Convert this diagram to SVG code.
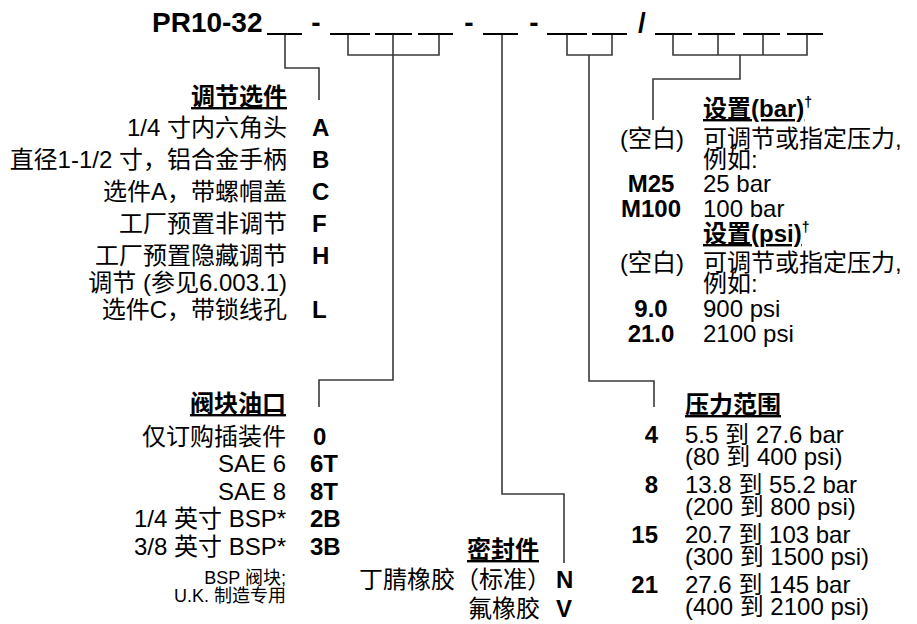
<svg xmlns="http://www.w3.org/2000/svg" width="917" height="624" viewBox="0 0 917 624">
<style>
text{font-family:"Liberation Sans","Noto Sans CJK SC",sans-serif;font-size:24px;fill:#000}
.b{font-weight:bold}
.e{text-anchor:end}
.m{text-anchor:middle}
.u{text-decoration:underline}
.s{font-size:18px}
.sup{font-size:14px}
.big{font-size:28px}
.blank{stroke:#000;stroke-width:2}
.c{fill:none;stroke:#3a3a3a;stroke-width:1.6}
</style>
<rect width="917" height="624" fill="#fff"/>
<g id="code">
<text x="152" y="32" class="b big">PR10-32</text>
<text x="316" y="32" class="b m big">-</text>
<text x="469" y="32" class="b m big">-</text>
<text x="534" y="32" class="b m big">-</text>
<text x="642" y="32" class="b m big">/</text>
<g class="blank">
<line x1="267" y1="34" x2="302" y2="34"/>
<line x1="330" y1="34" x2="370" y2="34"/>
<line x1="375" y1="34" x2="412" y2="34"/>
<line x1="418" y1="34" x2="453" y2="34"/>
<line x1="483" y1="34" x2="518" y2="34"/>
<line x1="547" y1="34" x2="587" y2="34"/>
<line x1="592" y1="34" x2="627" y2="34"/>
<line x1="655" y1="34" x2="692" y2="34"/>
<line x1="698" y1="34" x2="735" y2="34"/>
<line x1="743" y1="34" x2="780" y2="34"/>
<line x1="787" y1="34" x2="823" y2="34"/>
</g>
</g>
<g id="connectors" class="c">
<path d="M285,35V68H319V100"/>
<path d="M348,35V55H439V35M393,35V380H319V407"/>
<path d="M502,35V494H564V563"/>
<path d="M567,35V55H612V35M589,55V381H654V407"/>
<path d="M673,35V55H807V35M718,35V55M763,35V55M740,55V79H653V120"/>
</g>
<g id="adjustment">
<text x="287" y="105" class="b e"><tspan class="u">调节选件</tspan></text>
<text x="287" y="136" class="e">1/4 寸内六角头</text><text x="312" y="136" class="b">A</text>
<text x="287" y="168" class="e">直径1-1/2 寸，铝合金手柄</text><text x="312" y="168" class="b">B</text>
<text x="287" y="200" class="e">选件A，带螺帽盖</text><text x="312" y="200" class="b">C</text>
<text x="287" y="232" class="e">工厂预置非调节</text><text x="312" y="232" class="b">F</text>
<text x="287" y="264" class="e"><tspan x="287">工厂预置隐藏调节</tspan><tspan x="287" dy="27">调节 (参见6.003.1)</tspan></text><text x="312" y="264" class="b">H</text>
<text x="287" y="318" class="e">选件C，带锁线孔</text><text x="312" y="318" class="b">L</text>
</g>
<g id="ports">
<text x="286" y="412" class="b e"><tspan class="u">阀块油口</tspan></text>
<text x="286" y="445" class="e">仅订购插装件</text><text x="313" y="445" class="b">0</text>
<text x="286" y="472" class="e">SAE 6</text><text x="310" y="472" class="b">6T</text>
<text x="286" y="500" class="e">SAE 8</text><text x="310" y="500" class="b">8T</text>
<text x="286" y="527" class="e">1/4 英寸 BSP*</text><text x="310" y="527" class="b">2B</text>
<text x="286" y="555" class="e">3/8 英寸 BSP*</text><text x="310" y="555" class="b">3B</text>
<text x="286" y="584" class="e s"><tspan x="286">BSP 阀块;</tspan><tspan x="286" dy="18">U.K. 制造专用</tspan></text>
</g>
<g id="seals">
<text x="539" y="558" class="b e"><tspan class="u">密封件</tspan></text>
<text x="551" y="588" class="e">丁腈橡胶（标准）</text><text x="556" y="588" class="b">N</text>
<text x="540" y="617" class="e">氟橡胶</text><text x="556" y="617" class="b">V</text>
</g>
<g id="setting">
<text x="703" y="117" class="b"><tspan class="u">设置(bar)</tspan><tspan class="sup" dy="-10">†</tspan></text>
<text x="652" y="147" class="m">(空白)</text><text x="703" y="147"><tspan x="703">可调节或指定压力,</tspan><tspan x="703" dy="21">例如:</tspan></text>
<text x="651" y="192" class="b m">M25</text><text x="703" y="192">25 bar</text>
<text x="651" y="217" class="b m">M100</text><text x="703" y="217">100 bar</text>
<text x="703" y="242" class="b"><tspan class="u">设置(psi)</tspan><tspan class="sup" dy="-10">†</tspan></text>
<text x="652" y="271" class="m">(空白)</text><text x="703" y="271"><tspan x="703">可调节或指定压力,</tspan><tspan x="703" dy="21">例如:</tspan></text>
<text x="651" y="317" class="b m">9.0</text><text x="703" y="317">900 psi</text>
<text x="651" y="342" class="b m">21.0</text><text x="703" y="342">2100 psi</text>
</g>
<g id="pressure">
<text x="685" y="413" class="b"><tspan class="u">压力范围</tspan></text>
<text x="658" y="443" class="b e">4</text><text x="685" y="443"><tspan x="685">5.5 到 27.6 bar</tspan><tspan x="685" dy="22">(80 到 400 psi)</tspan></text>
<text x="658" y="493" class="b e">8</text><text x="685" y="493"><tspan x="685">13.8 到 55.2 bar</tspan><tspan x="685" dy="22">(200 到 800 psi)</tspan></text>
<text x="658" y="543" class="b e">15</text><text x="685" y="543"><tspan x="685">20.7 到 103 bar</tspan><tspan x="685" dy="22">(300 到 1500 psi)</tspan></text>
<text x="658" y="593" class="b e">21</text><text x="685" y="593"><tspan x="685">27.6 到 145 bar</tspan><tspan x="685" dy="22">(400 到 2100 psi)</tspan></text>
</g>
</svg>
